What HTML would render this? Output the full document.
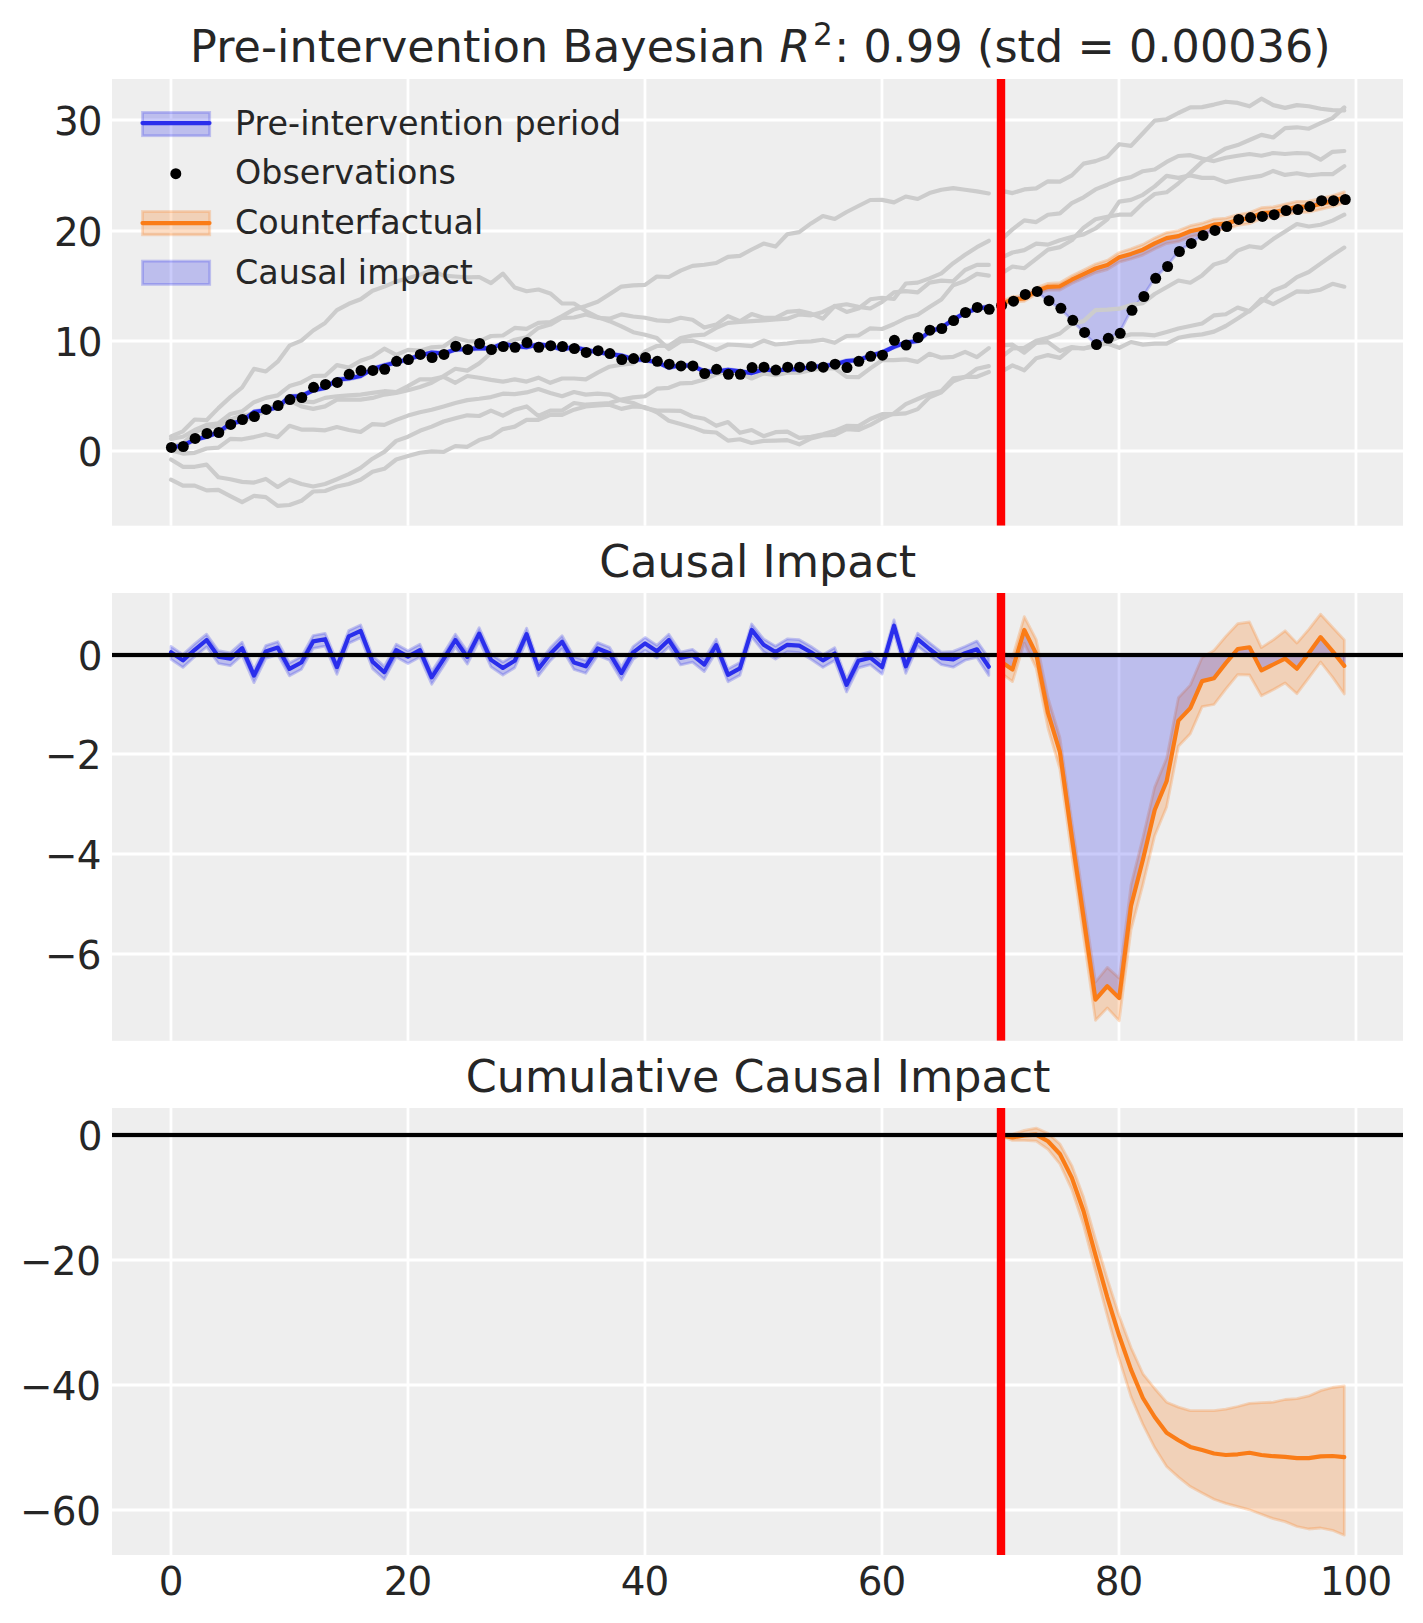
<!DOCTYPE html>
<html><head><meta charset="utf-8"><title>Causal impact</title><style>html,body{margin:0;padding:0;background:#fff}svg{display:block}</style></head><body>
<svg width="1423" height="1623" viewBox="0 0 1423 1623" font-family="'DejaVu Sans', 'Liberation Sans', sans-serif" fill="#262626">
<rect width="1423" height="1623" fill="#ffffff"/>
<defs>
<clipPath id="c1"><rect x="112.0" y="79.0" width="1291.0" height="446.70000000000005"/></clipPath>
<clipPath id="c2"><rect x="112.0" y="593.0" width="1291.0" height="447.79999999999995"/></clipPath>
<clipPath id="c3"><rect x="112.0" y="1108.0" width="1291.0" height="447.0"/></clipPath>
</defs>
<rect x="112.0" y="79.0" width="1291.0" height="446.7" fill="#eeeeee"/>
<path d="M171.0 79.0 V525.7 M408.0 79.0 V525.7 M645.0 79.0 V525.7 M882.0 79.0 V525.7 M1119.0 79.0 V525.7 M1356.0 79.0 V525.7 M112.0 451.0 H1403.0 M112.0 341.0 H1403.0 M112.0 231.0 H1403.0 M112.0 120.0 H1403.0" stroke="#ffffff" stroke-width="2.78" fill="none"/>
<text x="101.8" y="466.3" font-size="38.89" text-anchor="end" letter-spacing="-0.8">0</text>
<text x="101.8" y="356.3" font-size="38.89" text-anchor="end" letter-spacing="-0.8">10</text>
<text x="101.8" y="246.3" font-size="38.89" text-anchor="end" letter-spacing="-0.8">20</text>
<text x="101.8" y="135.3" font-size="38.89" text-anchor="end" letter-spacing="-0.8">30</text>
<g clip-path="url(#c1)">
<polygon points="171.0,446.6 182.9,444.0 194.7,438.3 206.6,435.4 218.4,430.9 230.3,422.3 242.1,419.7 254.0,410.6 265.8,408.9 277.7,405.9 289.5,395.3 301.4,394.7 313.2,389.0 325.1,386.6 336.9,378.4 348.8,377.2 360.6,374.7 372.5,367.7 384.3,364.2 396.2,361.1 408.0,358.0 419.9,354.2 431.7,351.2 443.6,352.2 455.4,348.2 467.3,347.8 479.2,346.9 491.0,347.1 502.9,342.3 514.7,344.8 526.6,345.9 538.4,343.0 550.3,344.6 562.1,348.1 574.0,345.6 585.8,348.6 597.7,350.9 609.5,352.7 621.4,354.3 633.2,357.9 645.1,358.7 656.9,360.9 668.8,366.2 680.6,363.9 692.5,364.5 704.3,370.0 716.2,370.2 728.0,368.6 739.9,370.1 751.7,371.8 763.6,368.2 775.5,369.5 787.3,368.2 799.2,368.0 811.0,365.7 822.9,364.7 834.7,363.2 846.6,359.7 858.4,358.8 870.3,354.4 882.1,351.2 894.0,345.5 905.8,341.2 917.7,339.7 929.5,330.2 941.4,326.5 953.2,318.3 965.1,311.6 976.9,307.4 988.8,305.4 988.8,308.0 976.9,310.0 965.1,314.2 953.2,320.9 941.4,329.1 929.5,332.8 917.7,342.3 905.8,343.8 894.0,348.1 882.1,353.8 870.3,357.0 858.4,361.4 846.6,362.3 834.7,365.8 822.9,367.3 811.0,368.3 799.2,370.6 787.3,370.8 775.5,372.1 763.6,370.8 751.7,374.4 739.9,372.7 728.0,371.2 716.2,372.8 704.3,372.6 692.5,367.1 680.6,366.5 668.8,368.8 656.9,363.5 645.1,361.3 633.2,360.5 621.4,356.9 609.5,355.3 597.7,353.5 585.8,351.2 574.0,348.2 562.1,350.7 550.3,347.2 538.4,345.6 526.6,348.5 514.7,347.4 502.9,344.9 491.0,349.7 479.2,349.5 467.3,350.4 455.4,350.8 443.6,354.8 431.7,353.8 419.9,356.8 408.0,360.6 396.2,363.7 384.3,366.8 372.5,370.3 360.6,377.3 348.8,379.8 336.9,381.0 325.1,389.2 313.2,391.6 301.4,397.3 289.5,397.9 277.7,408.5 265.8,411.5 254.0,413.2 242.1,422.3 230.3,424.9 218.4,433.5 206.6,438.0 194.7,440.9 182.9,446.6 171.0,449.2" fill="#2a2eec" fill-opacity="0.25" stroke="#2a2eec" stroke-opacity="0.25" stroke-width="2.78" stroke-linejoin="round"/>
<polygon points="1000.6,301.9 1012.5,296.6 1024.3,295.5 1036.2,287.9 1048.0,283.4 1059.9,282.7 1071.8,275.8 1083.6,270.1 1095.5,264.1 1107.3,260.3 1119.2,252.5 1131.0,248.8 1142.9,244.4 1154.7,237.9 1166.6,232.6 1178.4,230.6 1190.3,225.7 1202.1,223.2 1214.0,219.1 1225.8,218.2 1237.7,214.5 1249.5,212.6 1261.4,207.7 1273.2,206.9 1285.1,204.1 1296.9,201.4 1308.8,201.2 1320.6,198.4 1332.5,195.6 1344.3,191.9 1344.3,202.9 1332.5,206.6 1320.6,209.5 1308.8,212.2 1296.9,212.5 1285.1,215.2 1273.2,217.9 1261.4,218.7 1249.5,223.6 1237.7,225.5 1225.8,229.3 1214.0,230.1 1202.1,234.3 1190.3,236.8 1178.4,241.7 1166.6,243.6 1154.7,248.9 1142.9,255.1 1131.0,259.0 1119.2,262.2 1107.3,269.6 1095.5,272.8 1083.6,278.3 1071.8,283.6 1059.9,290.0 1048.0,290.2 1036.2,294.2 1024.3,301.4 1012.5,301.9 1000.6,306.8" fill="#fa7c17" fill-opacity="0.25" stroke="#fa7c17" stroke-opacity="0.25" stroke-width="2.78" stroke-linejoin="round"/>
<polygon points="1000.6,304.3 1012.5,299.3 1024.3,298.5 1036.2,291.1 1048.0,286.8 1059.9,286.3 1071.8,279.7 1083.6,274.2 1095.5,268.5 1107.3,264.9 1119.2,257.3 1131.0,253.9 1142.9,249.7 1154.7,243.4 1166.6,238.1 1178.4,236.1 1190.3,231.3 1202.1,228.7 1214.0,224.6 1225.8,223.7 1237.7,220.0 1249.5,218.1 1261.4,213.2 1273.2,212.4 1285.1,209.7 1296.9,206.9 1308.8,206.7 1320.6,204.0 1332.5,201.1 1344.3,197.4 1344.3,199.5 1332.5,200.7 1320.6,200.7 1308.8,206.6 1296.9,209.6 1285.1,210.5 1273.2,214.7 1261.4,216.4 1249.5,217.6 1237.7,219.4 1225.8,226.5 1214.0,230.4 1202.1,235.4 1190.3,243.4 1178.4,251.5 1166.6,266.5 1154.7,278.3 1142.9,296.5 1131.0,310.3 1119.2,333.3 1107.3,338.3 1095.5,344.5 1083.6,332.4 1071.8,320.3 1059.9,308.3 1048.0,300.7 1036.2,291.4 1024.3,294.4 1012.5,301.2 1000.6,305.4" fill="#2a2eec" fill-opacity="0.25" stroke="#2a2eec" stroke-opacity="0.25" stroke-width="2.78" stroke-linejoin="round"/>
<polyline points="171.0,436.3 182.9,431.3 194.7,419.5 206.6,420.2 218.4,408.1 230.3,397.1 242.1,387.5 254.0,368.9 265.8,371.5 277.7,361.7 289.5,345.7 301.4,340.6 313.2,330.5 325.1,322.9 336.9,310.2 348.8,303.8 360.6,299.3 372.5,290.8 384.3,286.6 396.2,281.6 408.0,278.2 419.9,274.7 431.7,270.5 443.6,275.7 455.4,276.5 467.3,277.3 479.2,277.0 491.0,283.2 502.9,273.6 514.7,287.5 526.6,291.2 538.4,289.5 550.3,293.4 562.1,303.5 574.0,303.5 585.8,311.1 597.7,317.0 609.5,321.2 621.4,326.3 633.2,332.2 645.1,334.7 656.9,338.1 668.8,349.0 680.6,341.4 692.5,340.6 704.3,344.8 716.2,349.9 728.0,344.5 739.9,345.1 751.7,346.2 763.6,340.6 775.5,344.5 787.3,343.5 799.2,341.8 811.0,341.4 822.9,339.7 834.7,342.8 846.6,336.0 858.4,335.5 870.3,328.3 882.1,329.0 894.0,324.0 905.8,318.1 917.7,314.7 929.5,307.1 941.4,299.5 953.2,285.2 965.1,281.0 976.9,273.9 988.8,275.6" fill="none" stroke="#cccccc" stroke-width="4.17" stroke-linecap="round" stroke-linejoin="round" />
<polyline points="1000.6,274.1 1012.5,266.5 1024.3,268.2 1036.2,258.9 1048.0,249.6 1059.9,247.1 1071.8,240.3 1083.6,227.7 1095.5,219.3 1107.3,216.7 1119.2,214.7 1131.0,214.7 1142.9,203.2 1154.7,194.0 1166.6,192.3 1178.4,183.3 1190.3,172.9 1202.1,161.9 1214.0,155.2 1225.8,148.4 1237.7,145.1 1249.5,140.0 1261.4,134.9 1273.2,137.5 1285.1,128.2 1296.9,127.3 1308.8,128.7 1320.6,123.1 1332.5,118.1 1344.3,107.4" fill="none" stroke="#cccccc" stroke-width="4.17" stroke-linecap="round" stroke-linejoin="round" />
<polyline points="171.0,438.9 182.9,436.7 194.7,430.0 206.6,424.9 218.4,423.2 230.3,414.0 242.1,411.4 254.0,402.2 265.8,397.9 277.7,395.4 289.5,386.1 301.4,382.4 313.2,376.0 325.1,375.7 336.9,365.1 348.8,367.6 360.6,360.8 372.5,356.6 384.3,348.7 396.2,354.9 408.0,349.9 419.9,350.7 431.7,347.3 443.6,346.5 455.4,338.1 467.3,341.1 479.2,341.4 491.0,336.0 502.9,335.5 514.7,327.9 526.6,328.8 538.4,322.9 550.3,322.0 562.1,316.1 574.0,309.4 585.8,306.0 597.7,301.8 609.5,294.2 621.4,286.6 633.2,285.4 645.1,284.9 656.9,276.5 668.8,277.0 680.6,270.6 692.5,265.9 704.3,264.7 716.2,263.0 728.0,256.8 739.9,255.8 751.7,249.5 763.6,243.6 775.5,246.6 787.3,234.3 799.2,232.1 811.0,223.4 822.9,216.0 834.7,219.0 846.6,212.0 858.4,206.0 870.3,200.0 882.1,199.9 894.0,202.4 905.8,196.5 917.7,199.0 929.5,193.1 941.4,189.7 953.2,188.1 965.1,189.7 976.9,191.4 988.8,193.5" fill="none" stroke="#cccccc" stroke-width="4.17" stroke-linecap="round" stroke-linejoin="round" />
<polyline points="1000.6,190.6 1012.5,193.1 1024.3,189.4 1036.2,188.4 1048.0,181.3 1059.9,181.7 1071.8,175.4 1083.6,163.6 1095.5,161.1 1107.3,156.9 1119.2,144.2 1131.0,145.9 1142.9,133.2 1154.7,120.6 1166.6,119.2 1178.4,113.0 1190.3,107.4 1202.1,107.1 1214.0,104.6 1225.8,101.7 1237.7,102.9 1249.5,106.3 1261.4,98.7 1273.2,105.1 1285.1,107.9 1296.9,105.1 1308.8,106.3 1320.6,108.8 1332.5,110.1 1344.3,110.5" fill="none" stroke="#cccccc" stroke-width="4.17" stroke-linecap="round" stroke-linejoin="round" />
<polyline points="171.0,446.4 182.9,443.5 194.7,432.4 206.6,427.4 218.4,426.0 230.3,419.4 242.1,415.5 254.0,413.5 265.8,408.4 277.7,405.5 289.5,401.1 301.4,401.3 313.2,402.2 325.1,397.9 336.9,396.3 348.8,395.4 360.6,394.6 372.5,392.9 384.3,391.2 396.2,392.0 408.0,386.1 419.9,379.4 431.7,379.4 443.6,376.9 455.4,382.8 467.3,376.0 479.2,377.7 491.0,379.9 502.9,381.6 514.7,379.4 526.6,381.6 538.4,377.7 550.3,382.8 562.1,378.5 574.0,378.5 585.8,379.4 597.7,372.6 609.5,366.7 621.4,364.7 633.2,363.4 645.1,351.4 656.9,346.0 668.8,345.7 680.6,338.1 692.5,335.5 704.3,334.7 716.2,327.9 728.0,322.9 739.9,322.0 751.7,321.2 763.6,320.4 775.5,319.5 787.3,318.7 799.2,314.4 811.0,315.3 822.9,311.9 834.7,306.0 846.6,304.3 858.4,306.9 870.3,308.5 882.1,301.9 894.0,292.3 905.8,291.1 917.7,292.4 929.5,282.6 941.4,280.6 953.2,281.3 965.1,270.0 976.9,264.9 988.8,264.9" fill="none" stroke="#cccccc" stroke-width="4.17" stroke-linecap="round" stroke-linejoin="round" />
<polyline points="1000.6,258.1 1012.5,252.5 1024.3,250.1 1036.2,243.7 1048.0,244.6 1059.9,240.3 1071.8,237.0 1083.6,234.4 1095.5,228.5 1107.3,219.3 1119.2,201.6 1131.0,199.9 1142.9,194.8 1154.7,186.4 1166.6,175.9 1178.4,177.9 1190.3,175.4 1202.1,177.9 1214.0,177.9 1225.8,182.2 1237.7,179.6 1249.5,177.6 1261.4,175.9 1273.2,170.9 1285.1,174.9 1296.9,173.2 1308.8,175.4 1320.6,174.2 1332.5,174.2 1344.3,166.1" fill="none" stroke="#cccccc" stroke-width="4.17" stroke-linecap="round" stroke-linejoin="round" />
<polyline points="171.0,448.4 182.9,447.5 194.7,439.4 206.6,434.4 218.4,433.5 230.3,425.4 242.1,420.5 254.0,417.5 265.8,410.4 277.7,406.5 289.5,400.6 301.4,406.4 313.2,408.9 325.1,406.4 336.9,399.6 348.8,399.6 360.6,399.6 372.5,397.9 384.3,394.6 396.2,392.9 408.0,390.3 419.9,387.0 431.7,382.8 443.6,376.0 455.4,368.8 467.3,370.6 479.2,363.4 491.0,353.2 502.9,344.8 514.7,339.7 526.6,337.2 538.4,327.9 550.3,324.6 562.1,317.8 574.0,317.5 585.8,314.4 597.7,317.8 609.5,318.7 621.4,314.4 633.2,316.5 645.1,317.8 656.9,320.4 668.8,321.2 680.6,317.8 692.5,319.8 704.3,327.6 716.2,324.6 728.0,316.1 739.9,321.2 751.7,314.1 763.6,317.8 775.5,317.8 787.3,311.9 799.2,310.7 811.0,313.6 822.9,318.7 834.7,306.0 846.6,311.9 858.4,308.5 870.3,299.3 882.1,297.8 894.0,299.0 905.8,283.5 917.7,282.6 929.5,278.4 941.4,273.4 953.2,263.2 965.1,254.8 976.9,247.2 988.8,240.8" fill="none" stroke="#cccccc" stroke-width="4.17" stroke-linecap="round" stroke-linejoin="round" />
<polyline points="1000.6,240.3 1012.5,229.4 1024.3,220.4 1036.2,222.1 1048.0,214.7 1059.9,213.4 1071.8,203.2 1083.6,197.3 1095.5,189.4 1107.3,184.7 1119.2,179.6 1131.0,177.1 1142.9,171.2 1154.7,169.5 1166.6,161.9 1178.4,156.0 1190.3,155.2 1202.1,158.5 1214.0,161.1 1225.8,157.7 1237.7,155.7 1249.5,154.0 1261.4,155.7 1273.2,153.0 1285.1,154.0 1296.9,153.0 1308.8,153.5 1320.6,159.7 1332.5,151.8 1344.3,151.0" fill="none" stroke="#cccccc" stroke-width="4.17" stroke-linecap="round" stroke-linejoin="round" />
<polyline points="171.0,450.2 182.9,453.6 194.7,452.8 206.6,448.5 218.4,447.7 230.3,438.8 242.1,439.3 254.0,437.1 265.8,434.2 277.7,437.1 289.5,425.8 301.4,429.6 313.2,429.6 325.1,430.3 336.9,427.0 348.8,430.0 360.6,432.0 372.5,424.1 384.3,424.9 396.2,419.9 408.0,415.6 419.9,412.3 431.7,409.7 443.6,406.4 455.4,403.0 467.3,400.1 479.2,398.8 491.0,397.1 502.9,393.7 514.7,394.1 526.6,392.4 538.4,389.0 550.3,392.9 562.1,396.2 574.0,392.0 585.8,394.6 597.7,393.7 609.5,394.6 621.4,400.5 633.2,403.0 645.1,408.1 656.9,410.6 668.8,410.6 680.6,410.9 692.5,416.5 704.3,418.7 716.2,425.8 728.0,422.1 739.9,432.8 751.7,430.0 763.6,436.2 775.5,432.2 787.3,431.7 799.2,437.9 811.0,436.7 822.9,434.2 834.7,430.8 846.6,425.8 858.4,426.1 870.3,419.0 882.1,414.2 894.0,414.2 905.8,413.4 917.7,409.1 929.5,397.3 941.4,392.3 953.2,381.3 965.1,376.8 976.9,376.8 988.8,372.0" fill="none" stroke="#cccccc" stroke-width="4.17" stroke-linecap="round" stroke-linejoin="round" />
<polyline points="1000.6,372.2 1012.5,365.4 1024.3,370.3 1036.2,358.3 1048.0,355.1 1059.9,357.9 1071.8,347.8 1083.6,348.5 1095.5,346.4 1107.3,342.2 1119.2,337.2 1131.0,334.4 1142.9,334.4 1154.7,335.3 1166.6,331.9 1178.4,328.5 1190.3,326.0 1202.1,323.5 1214.0,315.4 1225.8,314.2 1237.7,307.5 1249.5,311.3 1261.4,299.0 1273.2,304.1 1285.1,297.8 1296.9,291.4 1308.8,291.8 1320.6,289.7 1332.5,283.8 1344.3,286.7" fill="none" stroke="#cccccc" stroke-width="4.17" stroke-linecap="round" stroke-linejoin="round" />
<polyline points="171.0,459.5 182.9,466.8 194.7,466.8 206.6,464.6 218.4,477.2 230.3,479.2 242.1,481.9 254.0,482.6 265.8,478.9 277.7,487.0 289.5,479.7 301.4,484.0 313.2,486.5 325.1,484.0 336.9,479.2 348.8,474.2 360.6,467.9 372.5,458.7 384.3,451.9 396.2,440.9 408.0,436.7 419.9,430.8 431.7,426.6 443.6,421.5 455.4,418.2 467.3,415.3 479.2,416.0 491.0,410.6 502.9,415.6 514.7,409.7 526.6,406.4 538.4,416.0 550.3,410.6 562.1,410.6 574.0,403.0 585.8,404.7 597.7,403.8 609.5,403.0 621.4,399.6 633.2,397.4 645.1,396.2 656.9,388.7 668.8,387.8 680.6,383.3 692.5,382.8 704.3,379.4 716.2,374.3 728.0,371.8 739.9,373.5 751.7,378.5 763.6,373.5 775.5,375.2 787.3,372.6 799.2,372.6 811.0,370.1 822.9,368.4 834.7,368.4 846.6,376.9 858.4,377.2 870.3,368.4 882.1,360.2 894.0,360.2 905.8,359.4 917.7,361.9 929.5,353.8 941.4,357.7 953.2,356.9 965.1,351.8 976.9,357.2 988.8,348.1" fill="none" stroke="#cccccc" stroke-width="4.17" stroke-linecap="round" stroke-linejoin="round" />
<polyline points="1000.6,345.4 1012.5,344.7 1024.3,352.7 1036.2,342.9 1048.0,342.2 1059.9,350.9 1071.8,347.1 1083.6,348.5 1095.5,345.3 1107.3,343.6 1119.2,347.8 1131.0,342.0 1142.9,344.6 1154.7,343.7 1166.6,343.7 1178.4,337.8 1190.3,335.6 1202.1,334.4 1214.0,331.6 1225.8,326.0 1237.7,318.4 1249.5,310.8 1261.4,301.6 1273.2,290.6 1285.1,286.0 1296.9,277.1 1308.8,272.0 1320.6,263.6 1332.5,255.2 1344.3,247.6" fill="none" stroke="#cccccc" stroke-width="4.17" stroke-linecap="round" stroke-linejoin="round" />
<polyline points="171.0,479.7 182.9,485.6 194.7,485.6 206.6,490.4 218.4,489.9 230.3,496.1 242.1,502.2 254.0,495.8 265.8,497.1 277.7,505.9 289.5,505.0 301.4,500.8 313.2,491.5 325.1,491.0 336.9,486.5 348.8,484.0 360.6,479.7 372.5,471.8 384.3,468.8 396.2,459.5 408.0,456.1 419.9,452.7 431.7,451.4 443.6,451.9 455.4,446.0 467.3,446.8 479.2,440.1 491.0,436.7 502.9,429.1 514.7,426.6 526.6,419.9 538.4,419.9 550.3,414.8 562.1,414.8 574.0,409.7 585.8,406.4 597.7,405.5 609.5,404.7 621.4,408.9 633.2,406.4 645.1,407.2 656.9,412.3 668.8,420.7 680.6,424.1 692.5,427.4 704.3,431.7 716.2,432.5 728.0,440.6 739.9,439.3 751.7,443.0 763.6,440.9 775.5,440.6 787.3,440.1 799.2,444.3 811.0,438.4 822.9,435.5 834.7,435.0 846.6,429.1 858.4,430.0 870.3,424.9 882.1,418.4 894.0,413.4 905.8,404.1 917.7,399.0 929.5,394.0 941.4,390.9 953.2,378.4 965.1,377.1 976.9,368.7 988.8,366.1" fill="none" stroke="#cccccc" stroke-width="4.17" stroke-linecap="round" stroke-linejoin="round" />
<polyline points="1000.6,357.6 1012.5,348.5 1024.3,347.8 1036.2,340.8 1048.0,337.7 1059.9,333.5 1071.8,323.9 1083.6,321.1 1095.5,310.1 1107.3,309.6 1119.2,308.7 1131.0,304.9 1142.9,303.2 1154.7,294.0 1166.6,287.2 1178.4,280.5 1190.3,282.7 1202.1,275.4 1214.0,264.4 1225.8,261.1 1237.7,250.6 1249.5,246.2 1261.4,247.9 1273.2,239.1 1285.1,231.6 1296.9,224.0 1308.8,226.5 1320.6,224.8 1332.5,220.6 1344.3,214.7" fill="none" stroke="#cccccc" stroke-width="4.17" stroke-linecap="round" stroke-linejoin="round" />
<polyline points="171.0,447.9 182.9,445.3 194.7,439.6 206.6,436.7 218.4,432.2 230.3,423.6 242.1,421.0 254.0,411.9 265.8,410.2 277.7,407.2 289.5,396.6 301.4,396.0 313.2,390.3 325.1,387.9 336.9,379.7 348.8,378.5 360.6,376.0 372.5,369.0 384.3,365.5 396.2,362.4 408.0,359.3 419.9,355.5 431.7,352.5 443.6,353.5 455.4,349.5 467.3,349.1 479.2,348.2 491.0,348.4 502.9,343.6 514.7,346.1 526.6,347.2 538.4,344.3 550.3,345.9 562.1,349.4 574.0,346.9 585.8,349.9 597.7,352.2 609.5,354.0 621.4,355.6 633.2,359.2 645.1,360.0 656.9,362.2 668.8,367.5 680.6,365.2 692.5,365.8 704.3,371.3 716.2,371.5 728.0,369.9 739.9,371.4 751.7,373.1 763.6,369.5 775.5,370.8 787.3,369.5 799.2,369.3 811.0,367.0 822.9,366.0 834.7,364.5 846.6,361.0 858.4,360.1 870.3,355.7 882.1,352.5 894.0,346.8 905.8,342.5 917.7,341.0 929.5,331.5 941.4,327.8 953.2,319.6 965.1,312.9 976.9,308.7 988.8,306.7" fill="none" stroke="#2a2eec" stroke-width="4.17" stroke-linecap="round" stroke-linejoin="round" />
<g fill="#000000"><circle cx="171.4" cy="447.4" r="5.50"/><circle cx="183.3" cy="446.5" r="5.50"/><circle cx="195.1" cy="438.4" r="5.50"/><circle cx="207.0" cy="433.4" r="5.50"/><circle cx="218.8" cy="432.5" r="5.50"/><circle cx="230.7" cy="424.4" r="5.50"/><circle cx="242.5" cy="419.5" r="5.50"/><circle cx="254.4" cy="416.5" r="5.50"/><circle cx="266.2" cy="409.4" r="5.50"/><circle cx="278.1" cy="405.5" r="5.50"/><circle cx="289.9" cy="399.6" r="5.50"/><circle cx="301.8" cy="397.6" r="5.50"/><circle cx="313.6" cy="387.3" r="5.50"/><circle cx="325.5" cy="384.4" r="5.50"/><circle cx="337.3" cy="382.4" r="5.50"/><circle cx="349.2" cy="374.3" r="5.50"/><circle cx="361.0" cy="370.6" r="5.50"/><circle cx="372.9" cy="370.4" r="5.50"/><circle cx="384.7" cy="369.3" r="5.50"/><circle cx="396.6" cy="361.3" r="5.50"/><circle cx="408.4" cy="359.6" r="5.50"/><circle cx="420.3" cy="354.4" r="5.50"/><circle cx="432.1" cy="357.5" r="5.50"/><circle cx="444.0" cy="354.4" r="5.50"/><circle cx="455.8" cy="346.2" r="5.50"/><circle cx="467.7" cy="349.5" r="5.50"/><circle cx="479.6" cy="343.5" r="5.50"/><circle cx="491.4" cy="349.5" r="5.50"/><circle cx="503.3" cy="346.5" r="5.50"/><circle cx="515.1" cy="347.3" r="5.50"/><circle cx="527.0" cy="342.6" r="5.50"/><circle cx="538.8" cy="347.3" r="5.50"/><circle cx="550.7" cy="345.7" r="5.50"/><circle cx="562.5" cy="346.5" r="5.50"/><circle cx="574.4" cy="348.5" r="5.50"/><circle cx="586.2" cy="352.4" r="5.50"/><circle cx="598.1" cy="350.7" r="5.50"/><circle cx="609.9" cy="353.6" r="5.50"/><circle cx="621.8" cy="359.6" r="5.50"/><circle cx="633.6" cy="358.6" r="5.50"/><circle cx="645.5" cy="357.5" r="5.50"/><circle cx="657.3" cy="361.3" r="5.50"/><circle cx="669.2" cy="364.2" r="5.50"/><circle cx="681.0" cy="365.9" r="5.50"/><circle cx="692.9" cy="365.9" r="5.50"/><circle cx="704.7" cy="373.5" r="5.50"/><circle cx="716.6" cy="369.3" r="5.50"/><circle cx="728.4" cy="374.3" r="5.50"/><circle cx="740.3" cy="374.3" r="5.50"/><circle cx="752.1" cy="367.6" r="5.50"/><circle cx="764.0" cy="367.2" r="5.50"/><circle cx="775.9" cy="370.1" r="5.50"/><circle cx="787.7" cy="367.2" r="5.50"/><circle cx="799.6" cy="367.2" r="5.50"/><circle cx="811.4" cy="366.4" r="5.50"/><circle cx="823.3" cy="367.2" r="5.50"/><circle cx="835.1" cy="364.2" r="5.50"/><circle cx="847.0" cy="367.6" r="5.50"/><circle cx="858.8" cy="361.3" r="5.50"/><circle cx="870.7" cy="356.3" r="5.50"/><circle cx="882.5" cy="355.2" r="5.50"/><circle cx="894.4" cy="340.3" r="5.50"/><circle cx="906.2" cy="345.0" r="5.50"/><circle cx="918.1" cy="337.5" r="5.50"/><circle cx="929.9" cy="330.2" r="5.50"/><circle cx="941.8" cy="328.5" r="5.50"/><circle cx="953.6" cy="320.6" r="5.50"/><circle cx="965.5" cy="312.5" r="5.50"/><circle cx="977.3" cy="307.4" r="5.50"/><circle cx="989.2" cy="309.3" r="5.50"/></g>
<polyline points="1000.6,304.3 1012.5,299.3 1024.3,298.5 1036.2,291.1 1048.0,286.8 1059.9,286.3 1071.8,279.7 1083.6,274.2 1095.5,268.5 1107.3,264.9 1119.2,257.3 1131.0,253.9 1142.9,249.7 1154.7,243.4 1166.6,238.1 1178.4,236.1 1190.3,231.3 1202.1,228.7 1214.0,224.6 1225.8,223.7 1237.7,220.0 1249.5,218.1 1261.4,213.2 1273.2,212.4 1285.1,209.7 1296.9,206.9 1308.8,206.7 1320.6,204.0 1332.5,201.1 1344.3,197.4" fill="none" stroke="#fa7c17" stroke-width="4.17" stroke-linecap="round" stroke-linejoin="round" />
<g fill="#000000"><circle cx="1001.6" cy="305.4" r="5.50"/><circle cx="1013.5" cy="301.2" r="5.50"/><circle cx="1025.3" cy="294.4" r="5.50"/><circle cx="1037.2" cy="291.4" r="5.50"/><circle cx="1049.0" cy="300.7" r="5.50"/><circle cx="1060.9" cy="308.3" r="5.50"/><circle cx="1072.8" cy="320.3" r="5.50"/><circle cx="1084.6" cy="332.4" r="5.50"/><circle cx="1096.5" cy="344.5" r="5.50"/><circle cx="1108.3" cy="338.3" r="5.50"/><circle cx="1120.2" cy="333.3" r="5.50"/><circle cx="1132.0" cy="310.3" r="5.50"/><circle cx="1143.9" cy="296.5" r="5.50"/><circle cx="1155.7" cy="278.3" r="5.50"/><circle cx="1167.6" cy="266.5" r="5.50"/><circle cx="1179.4" cy="251.5" r="5.50"/><circle cx="1191.3" cy="243.4" r="5.50"/><circle cx="1203.1" cy="235.4" r="5.50"/><circle cx="1215.0" cy="230.4" r="5.50"/><circle cx="1226.8" cy="226.5" r="5.50"/><circle cx="1238.7" cy="219.4" r="5.50"/><circle cx="1250.5" cy="217.6" r="5.50"/><circle cx="1262.4" cy="216.4" r="5.50"/><circle cx="1274.2" cy="214.7" r="5.50"/><circle cx="1286.1" cy="210.5" r="5.50"/><circle cx="1297.9" cy="209.6" r="5.50"/><circle cx="1309.8" cy="206.6" r="5.50"/><circle cx="1321.6" cy="200.7" r="5.50"/><circle cx="1333.5" cy="200.7" r="5.50"/><circle cx="1345.3" cy="199.5" r="5.50"/></g>
<rect x="996.8" y="79.0" width="8.4" height="446.7" fill="#ff0000"/>
</g>
<rect x="142.5" y="112.4" width="67.2" height="23.3" fill="#2a2eec" fill-opacity="0.25" stroke="#2a2eec" stroke-opacity="0.25" stroke-width="2.78"/>
<line x1="142.5" x2="209.5" y1="123.1" y2="123.1" stroke="#2a2eec" stroke-width="4.17" stroke-linecap="round"/>
<circle cx="175.8" cy="173.7" r="5.50" fill="#000"/>
<rect x="142.5" y="211.5" width="67.2" height="23.3" fill="#fa7c17" fill-opacity="0.25" stroke="#fa7c17" stroke-opacity="0.25" stroke-width="2.78"/>
<line x1="142.5" x2="209.5" y1="223.1" y2="223.1" stroke="#fa7c17" stroke-width="4.17" stroke-linecap="round"/>
<rect x="142.5" y="261.1" width="67.2" height="23.3" fill="#2a2eec" fill-opacity="0.25" stroke="#2a2eec" stroke-opacity="0.25" stroke-width="2.78"/>
<text x="234.9" y="134.8" font-size="33.33" letter-spacing="0.07">Pre-intervention period</text>
<text x="234.9" y="184.4" font-size="33.33" letter-spacing="0.07">Observations</text>
<text x="234.9" y="233.9" font-size="33.33" letter-spacing="0.07">Counterfactual</text>
<text x="234.9" y="283.5" font-size="33.33" letter-spacing="0.07">Causal impact</text>
<rect x="112.0" y="593.0" width="1291.0" height="447.8" fill="#eeeeee"/>
<path d="M171.0 593.0 V1040.8 M408.0 593.0 V1040.8 M645.0 593.0 V1040.8 M882.0 593.0 V1040.8 M1119.0 593.0 V1040.8 M1356.0 593.0 V1040.8 M112.0 655.0 H1403.0 M112.0 754.0 H1403.0 M112.0 854.0 H1403.0 M112.0 954.0 H1403.0" stroke="#ffffff" stroke-width="2.78" fill="none"/>
<text x="101.8" y="670.3" font-size="38.89" text-anchor="end" letter-spacing="-0.8">0</text>
<text x="100.8" y="769.3" font-size="38.89" text-anchor="end" letter-spacing="-0.8">−2</text>
<text x="100.8" y="869.3" font-size="38.89" text-anchor="end" letter-spacing="-0.8">−4</text>
<text x="100.8" y="969.3" font-size="38.89" text-anchor="end" letter-spacing="-0.8">−6</text>
<g clip-path="url(#c2)">
<polygon points="171.0,646.5 182.9,654.6 194.7,643.9 206.6,634.2 218.4,650.7 230.3,652.9 242.1,642.3 254.0,669.7 265.8,645.6 277.7,641.7 289.5,663.0 301.4,656.6 313.2,635.5 325.1,633.3 336.9,661.3 348.8,630.4 360.6,624.9 372.5,655.7 384.3,666.4 396.2,644.3 408.0,650.7 419.9,644.3 431.7,671.4 443.6,653.2 455.4,634.2 467.3,651.2 479.2,627.7 491.0,654.1 502.9,662.1 514.7,654.9 526.6,628.3 538.4,663.0 550.3,647.8 562.1,635.8 574.0,656.6 585.8,660.5 597.7,642.6 609.5,647.3 621.4,667.2 633.2,646.5 645.1,637.5 656.9,645.3 668.8,634.2 680.6,652.0 692.5,649.3 704.3,658.8 716.2,639.2 728.0,668.9 739.9,662.5 751.7,624.0 763.6,638.9 775.5,646.1 787.3,638.9 799.2,639.7 811.0,646.5 822.9,654.6 834.7,647.7 846.6,679.0 858.4,654.9 870.3,651.9 882.1,661.3 894.0,619.8 905.8,660.5 917.7,633.3 929.5,642.8 941.4,652.1 953.2,651.4 965.1,646.5 976.9,641.1 988.8,658.0 988.8,675.4 976.9,657.5 965.1,660.2 953.2,667.2 941.4,664.7 929.5,655.4 917.7,646.2 905.8,673.3 894.0,632.7 882.1,674.2 870.3,664.7 858.4,667.8 846.6,691.9 834.7,660.5 822.9,667.4 811.0,659.3 799.2,652.6 787.3,651.7 775.5,659.0 763.6,651.7 751.7,636.9 739.9,675.3 728.0,681.7 716.2,652.1 704.3,671.6 692.5,662.2 680.6,664.9 668.8,647.0 656.9,658.1 645.1,650.4 633.2,659.3 621.4,680.1 609.5,660.2 597.7,655.4 585.8,673.3 574.0,669.4 562.1,648.7 550.3,660.7 538.4,675.8 526.6,641.1 514.7,667.8 502.9,675.0 491.0,666.9 479.2,640.6 467.3,664.0 455.4,647.0 443.6,666.1 431.7,684.3 419.9,657.1 408.0,663.5 396.2,657.1 384.3,679.2 372.5,668.6 360.6,637.7 348.8,643.3 336.9,674.2 325.1,646.2 313.2,648.4 301.4,669.4 289.5,675.8 277.7,654.6 265.8,658.5 254.0,682.6 242.1,655.1 230.3,665.7 218.4,663.5 206.6,647.0 194.7,656.8 182.9,667.4 171.0,659.3" fill="#2a2eec" fill-opacity="0.25" stroke="#2a2eec" stroke-opacity="0.25" stroke-width="2.78" stroke-linejoin="round"/>
<polygon points="1000.6,650.6 1012.5,657.5 1024.3,616.7 1036.2,639.6 1048.0,697.7 1059.9,737.3 1071.8,821.4 1083.6,901.3 1095.5,982.0 1107.3,967.4 1119.2,978.1 1131.0,885.1 1142.9,837.6 1154.7,787.1 1166.6,758.4 1178.4,697.7 1190.3,685.1 1202.1,657.5 1214.0,650.4 1225.8,636.4 1237.7,623.7 1249.5,622.0 1261.4,647.6 1273.2,639.9 1285.1,630.8 1296.9,643.1 1308.8,629.4 1320.6,614.2 1332.5,627.2 1344.3,639.9 1344.3,694.0 1332.5,677.1 1320.6,662.0 1308.8,677.8 1296.9,693.7 1285.1,683.0 1273.2,689.8 1261.4,695.7 1249.5,675.0 1237.7,674.6 1225.8,689.1 1214.0,704.5 1202.1,706.7 1190.3,733.8 1178.4,746.3 1166.6,807.0 1154.7,835.7 1142.9,884.7 1131.0,930.0 1119.2,1020.8 1107.3,1007.9 1095.5,1020.3 1083.6,937.4 1071.8,855.3 1059.9,769.0 1048.0,728.3 1036.2,668.2 1024.3,643.1 1012.5,681.6 1000.6,672.5" fill="#fa7c17" fill-opacity="0.25" stroke="#fa7c17" stroke-opacity="0.25" stroke-width="2.78" stroke-linejoin="round"/>
<polygon points="1000.6,655.0 1012.5,655.0 1024.3,655.0 1036.2,655.0 1048.0,655.0 1059.9,655.0 1071.8,655.0 1083.6,655.0 1095.5,655.0 1107.3,655.0 1119.2,655.0 1131.0,655.0 1142.9,655.0 1154.7,655.0 1166.6,655.0 1178.4,655.0 1190.3,655.0 1202.1,655.0 1214.0,655.0 1225.8,655.0 1237.7,655.0 1249.5,655.0 1261.4,655.0 1273.2,655.0 1285.1,655.0 1296.9,655.0 1308.8,655.0 1320.6,655.0 1332.5,655.0 1344.3,655.0 1344.3,665.9 1332.5,651.1 1320.6,637.1 1308.8,653.2 1296.9,668.7 1285.1,658.6 1273.2,664.5 1261.4,670.4 1249.5,647.3 1237.7,649.0 1225.8,663.1 1214.0,678.3 1202.1,681.1 1190.3,708.1 1178.4,720.6 1166.6,781.3 1154.7,810.0 1142.9,859.8 1131.0,906.1 1119.2,998.1 1107.3,986.2 1095.5,999.7 1083.6,917.9 1071.8,837.0 1059.9,751.8 1048.0,713.0 1036.2,653.9 1024.3,629.9 1012.5,669.5 1000.6,661.6" fill="#2a2eec" fill-opacity="0.25" stroke="#2a2eec" stroke-opacity="0.25" stroke-width="2.78" stroke-linejoin="round"/>
<polyline points="171.0,652.3 182.9,660.4 194.7,649.8 206.6,640.0 218.4,656.6 230.3,658.7 242.1,648.1 254.0,675.6 265.8,651.5 277.7,647.6 289.5,668.9 301.4,662.5 313.2,641.4 325.1,639.2 336.9,667.2 348.8,636.3 360.6,630.8 372.5,661.6 384.3,672.2 396.2,650.2 408.0,656.6 419.9,650.2 431.7,677.3 443.6,659.1 455.4,640.0 467.3,657.1 479.2,633.6 491.0,659.9 502.9,668.0 514.7,660.8 526.6,634.1 538.4,668.9 550.3,653.7 562.1,641.7 574.0,662.5 585.8,666.3 597.7,648.5 609.5,653.2 621.4,673.1 633.2,652.3 645.1,643.4 656.9,651.2 668.8,640.0 680.6,657.9 692.5,655.2 704.3,664.6 716.2,645.1 728.0,674.8 739.9,668.4 751.7,629.9 763.6,644.8 775.5,652.0 787.3,644.8 799.2,645.6 811.0,652.3 822.9,660.4 834.7,653.5 846.6,684.9 858.4,660.8 870.3,657.7 882.1,667.2 894.0,625.7 905.8,666.3 917.7,639.2 929.5,649.0 941.4,658.2 953.2,659.3 965.1,653.2 976.9,649.3 988.8,666.7" fill="none" stroke="#2a2eec" stroke-width="4.17" stroke-linecap="round" stroke-linejoin="round" />
<polyline points="1000.6,661.6 1012.5,669.5 1024.3,629.9 1036.2,653.9 1048.0,713.0 1059.9,751.8 1071.8,837.0 1083.6,917.9 1095.5,999.7 1107.3,986.2 1119.2,998.1 1131.0,906.1 1142.9,859.8 1154.7,810.0 1166.6,781.3 1178.4,720.6 1190.3,708.1 1202.1,681.1 1214.0,678.3 1225.8,663.1 1237.7,649.0 1249.5,647.3 1261.4,670.4 1273.2,664.5 1285.1,658.6 1296.9,668.7 1308.8,653.2 1320.6,637.1 1332.5,651.1 1344.3,665.9" fill="none" stroke="#fa7c17" stroke-width="4.17" stroke-linecap="round" stroke-linejoin="round" />
<rect x="112.0" y="652.90" width="1291.0" height="4.2" fill="#000"/>
<rect x="996.8" y="593.0" width="8.4" height="447.8" fill="#ff0000"/>
</g>
<rect x="112.0" y="1108.0" width="1291.0" height="447.0" fill="#eeeeee"/>
<path d="M171.0 1108.0 V1555.0 M408.0 1108.0 V1555.0 M645.0 1108.0 V1555.0 M882.0 1108.0 V1555.0 M1119.0 1108.0 V1555.0 M1356.0 1108.0 V1555.0 M112.0 1135.0 H1403.0 M112.0 1260.0 H1403.0 M112.0 1385.0 H1403.0 M112.0 1510.0 H1403.0" stroke="#ffffff" stroke-width="2.78" fill="none"/>
<text x="101.8" y="1150.3" font-size="38.89" text-anchor="end" letter-spacing="-0.8">0</text>
<text x="100.3" y="1275.3" font-size="38.89" text-anchor="end" letter-spacing="-0.8" dx="0 0 0.7">−20</text>
<text x="100.3" y="1400.3" font-size="38.89" text-anchor="end" letter-spacing="-0.8" dx="0 0 0.7">−40</text>
<text x="100.3" y="1525.3" font-size="38.89" text-anchor="end" letter-spacing="-0.8" dx="0 0 0.7">−60</text>
<g clip-path="url(#c3)">
<polygon points="1000.6,1134.9 1012.5,1134.4 1024.3,1130.4 1036.2,1128.1 1048.0,1133.3 1059.9,1144.0 1071.8,1165.6 1083.6,1197.3 1095.5,1239.2 1107.3,1278.8 1119.2,1315.8 1131.0,1347.6 1142.9,1373.8 1154.7,1388.5 1166.6,1402.2 1178.4,1407.1 1190.3,1410.7 1202.1,1410.7 1214.0,1410.7 1225.8,1409.2 1237.7,1406.5 1249.5,1403.3 1261.4,1402.7 1273.2,1402.2 1285.1,1399.5 1296.9,1398.7 1308.8,1395.9 1320.6,1390.7 1332.5,1387.5 1344.3,1386.0 1344.3,1535.2 1332.5,1530.3 1320.6,1528.0 1308.8,1529.0 1296.9,1526.5 1285.1,1521.6 1273.2,1518.6 1261.4,1514.2 1249.5,1509.8 1237.7,1506.6 1225.8,1503.4 1214.0,1499.2 1202.1,1492.9 1190.3,1486.6 1178.4,1477.1 1166.6,1466.5 1154.7,1447.6 1142.9,1424.4 1131.0,1396.6 1119.2,1358.8 1107.3,1315.8 1095.5,1271.2 1083.6,1225.3 1071.8,1189.6 1059.9,1164.0 1048.0,1149.3 1036.2,1141.1 1024.3,1140.4 1012.5,1140.4 1000.6,1135.9" fill="#fa7c17" fill-opacity="0.25" stroke="#fa7c17" stroke-opacity="0.25" stroke-width="2.78" stroke-linejoin="round"/>
<polyline points="1000.6,1135.4 1012.5,1137.4 1024.3,1135.4 1036.2,1134.6 1048.0,1141.3 1059.9,1154.0 1071.8,1177.6 1083.6,1211.3 1095.5,1255.2 1107.3,1297.3 1119.2,1335.8 1131.0,1369.6 1142.9,1398.0 1154.7,1417.0 1166.6,1432.8 1178.4,1440.2 1190.3,1446.9 1202.1,1450.1 1214.0,1453.5 1225.8,1455.0 1237.7,1454.3 1249.5,1452.8 1261.4,1455.0 1273.2,1456.2 1285.1,1456.9 1296.9,1458.1 1308.8,1458.1 1320.6,1456.4 1332.5,1456.0 1344.3,1457.1" fill="none" stroke="#fa7c17" stroke-width="4.17" stroke-linecap="round" stroke-linejoin="round" />
<rect x="112.0" y="1132.90" width="1291.0" height="4.2" fill="#000"/>
<rect x="996.8" y="1108.0" width="8.4" height="447.0" fill="#ff0000"/>
</g>
<text x="170.6" y="1594.6" font-size="38.89" text-anchor="middle" letter-spacing="-0.8">0</text>
<text x="407.6" y="1594.6" font-size="38.89" text-anchor="middle" letter-spacing="-0.8">20</text>
<text x="644.6" y="1594.6" font-size="38.89" text-anchor="middle" letter-spacing="-0.8">40</text>
<text x="881.6" y="1594.6" font-size="38.89" text-anchor="middle" letter-spacing="-0.8">60</text>
<text x="1118.6" y="1594.6" font-size="38.89" text-anchor="middle" letter-spacing="-0.8">80</text>
<text x="1355.6" y="1594.6" font-size="38.89" text-anchor="middle" letter-spacing="-0.8">100</text>
<text x="190.1" y="62" font-size="44.44"><tspan letter-spacing="0.065">Pre-intervention Bayesian </tspan><tspan font-style="italic">R</tspan><tspan dx="2.7" dy="-17.0" font-size="31.1">2</tspan><tspan dx="1.5" dy="17.0" letter-spacing="0.07">: 0.99 (std = 0.00036)</tspan></text>
<text x="757.8" y="577" font-size="44.44" text-anchor="middle">Causal Impact</text>
<text x="758.2" y="1092" font-size="44.44" text-anchor="middle">Cumulative Causal Impact</text>
</svg>
</body></html>
